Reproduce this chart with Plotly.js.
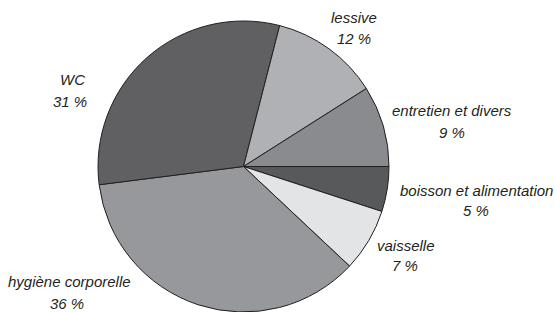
<!DOCTYPE html>
<html>
<head>
<meta charset="utf-8">
<script src="https://cdn.plot.ly/plotly-3.0.1.min.js"></script>
<style>html,body{margin:0;padding:0;background:#fff;}#chart{width:555px;height:312px;}</style>
</head>
<body>
<div id="chart"></div>
<script>
// Data (clockwise from 3 o'clock)
const categories = ["boisson et alimentation", "vaisselle", "hygiène corporelle", "WC", "lessive", "entretien et divers"];
const shares = [5, 7, 36, 31, 12, 9];
const sliceColors = ["#58595b", "#e3e4e6", "#97989b", "#606063", "#b0b1b4", "#8a8b8e"];

// label line positions (pixels in the 555x312 frame): [x1, y1, x2, y2]
const labelPos = [
  [476, 190, 476, 210],
  [406, 245, 405, 265],
  [69, 281.5, 67, 303.5],
  [72, 80, 70, 101.5],
  [354, 17.5, 354, 38.5],
  [452, 110, 452, 132]
];

const W = 555, H = 312;
const M = {l: 0, r: 0, t: 21, b: 0};
const PW = W - M.l - M.r, PH = H - M.t - M.b;
const px2x = px => (px - M.l) / PW;
const py2y = py => 1 - (py - M.t) / PH;

const fontFam = "'Liberation Sans', Arial, sans-serif";
const labelFont = {family: fontFam, size: 15, color: "#231f20", style: "italic"};

const annotations = [];
categories.forEach((c, i) => {
  const p = labelPos[i];
  annotations.push({
    text: c, xref: "paper", yref: "paper",
    x: px2x(p[0]), y: py2y(p[1]), xanchor: "center", yanchor: "middle",
    showarrow: false, font: labelFont
  });
  annotations.push({
    text: shares[i] + " %", xref: "paper", yref: "paper",
    x: px2x(p[2]), y: py2y(p[3]), xanchor: "center", yanchor: "middle",
    showarrow: false, font: labelFont
  });
});

const trace = {
  type: "pie",
  labels: categories,
  values: shares,
  sort: false,
  direction: "clockwise",
  rotation: 90,
  textinfo: "none",
  hoverinfo: "label+percent",
  marker: {colors: sliceColors, line: {color: "#231f20", width: 1}},
  domain: {x: [px2x(243.5 - 145.5), px2x(243.5 + 145.5)], y: [0, 1]},
  showlegend: false
};

Plotly.newPlot("chart", [trace], {
  width: W, height: H,
  margin: M,
  paper_bgcolor: "#ffffff",
  plot_bgcolor: "#ffffff",
  showlegend: false,
  annotations: annotations
}, {displayModeBar: false, staticPlot: true});
</script>
</body>
</html>
